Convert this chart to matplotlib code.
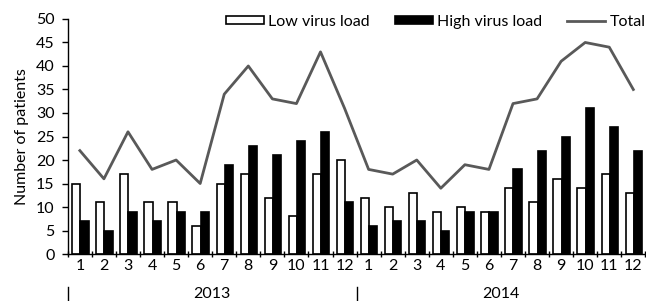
import numpy as np
import matplotlib.pyplot as plt
import matplotlib.transforms as mtransforms

plt.rcParams['font.family'] = ['Lato', 'DejaVu Sans']

months = ['1', '2', '3', '4', '5', '6', '7', '8', '9', '10', '11', '12'] * 2
years = ['2013', '2014']
low_load = [15, 11, 17, 11, 11, 6, 15, 17, 12, 8, 17, 20,
            12, 10, 13, 9, 10, 9, 14, 11, 16, 14, 17, 13]
high_load = [7, 5, 9, 7, 9, 9, 19, 23, 21, 24, 26, 11,
             6, 7, 7, 5, 9, 9, 18, 22, 25, 31, 27, 22]
total = [22, 16, 26, 18, 20, 15, 34, 40, 33, 32, 43, 31,
         18, 17, 20, 14, 19, 18, 32, 33, 41, 45, 44, 35]

fig, ax = plt.subplots(figsize=(6.46, 3.01), dpi=100)
fig.subplots_adjust(left=0.105, right=0.999, bottom=0.156, top=0.937)

x = np.arange(len(months))
w = 0.34
b_low = ax.bar(x - w / 2 + 0.02, low_load, w, color='white', edgecolor='black', linewidth=1.2,
               label='Low virus load')
b_high = ax.bar(x + w / 2 + 0.02, high_load, w, color='black', edgecolor='black', linewidth=1.2,
                label='High virus load')
l_tot, = ax.plot(x, total, color='#595959', linewidth=2, label='Total')

ax.set_xlim(-0.5, len(months) - 0.5)
ax.set_ylim(0, 50)
ax.set_yticks(np.arange(0, 51, 5))
ax.set_xticks(x)
ax.set_xticklabels(months)
ax.set_xticks(np.arange(-0.5, len(months), 1), minor=True)
ax.tick_params(axis='x', which='major', length=0, pad=3.5, labelsize=11.5)
ax.tick_params(axis='x', which='minor', length=4, direction='inout', width=1)
ax.tick_params(axis='y', length=4.5, direction='out', width=1, labelsize=11.5, pad=5)

for spine in ['top', 'right']:
    ax.spines[spine].set_visible(False)
ax.spines['left'].set_linewidth(1)
ax.spines['bottom'].set_linewidth(1)

ax.set_ylabel('Number of patients', fontsize=11.5, labelpad=5)

# year labels below the months
trans = mtransforms.blended_transform_factory(ax.transData, ax.transAxes)
for i, yr in enumerate(years):
    ax.text(i * 12 + 5.5, -0.17, yr, transform=trans, ha='center', va='center', fontsize=11.5)
    ax.plot([i * 12 - 0.5, i * 12 - 0.5], [-0.14, -0.2], color='black', linewidth=1,
            transform=trans, clip_on=False)

ax.legend([b_low, b_high, l_tot], ['Low virus load', 'High virus load', 'Total'],
          loc='center right', ncol=3, frameon=False, fontsize=11.5, handlelength=2.4,
          handleheight=0.4, columnspacing=1.55, handletextpad=0.25,
          bbox_to_anchor=(1.0, 0.987), borderaxespad=0, borderpad=0)

plt.savefig('out.png')
